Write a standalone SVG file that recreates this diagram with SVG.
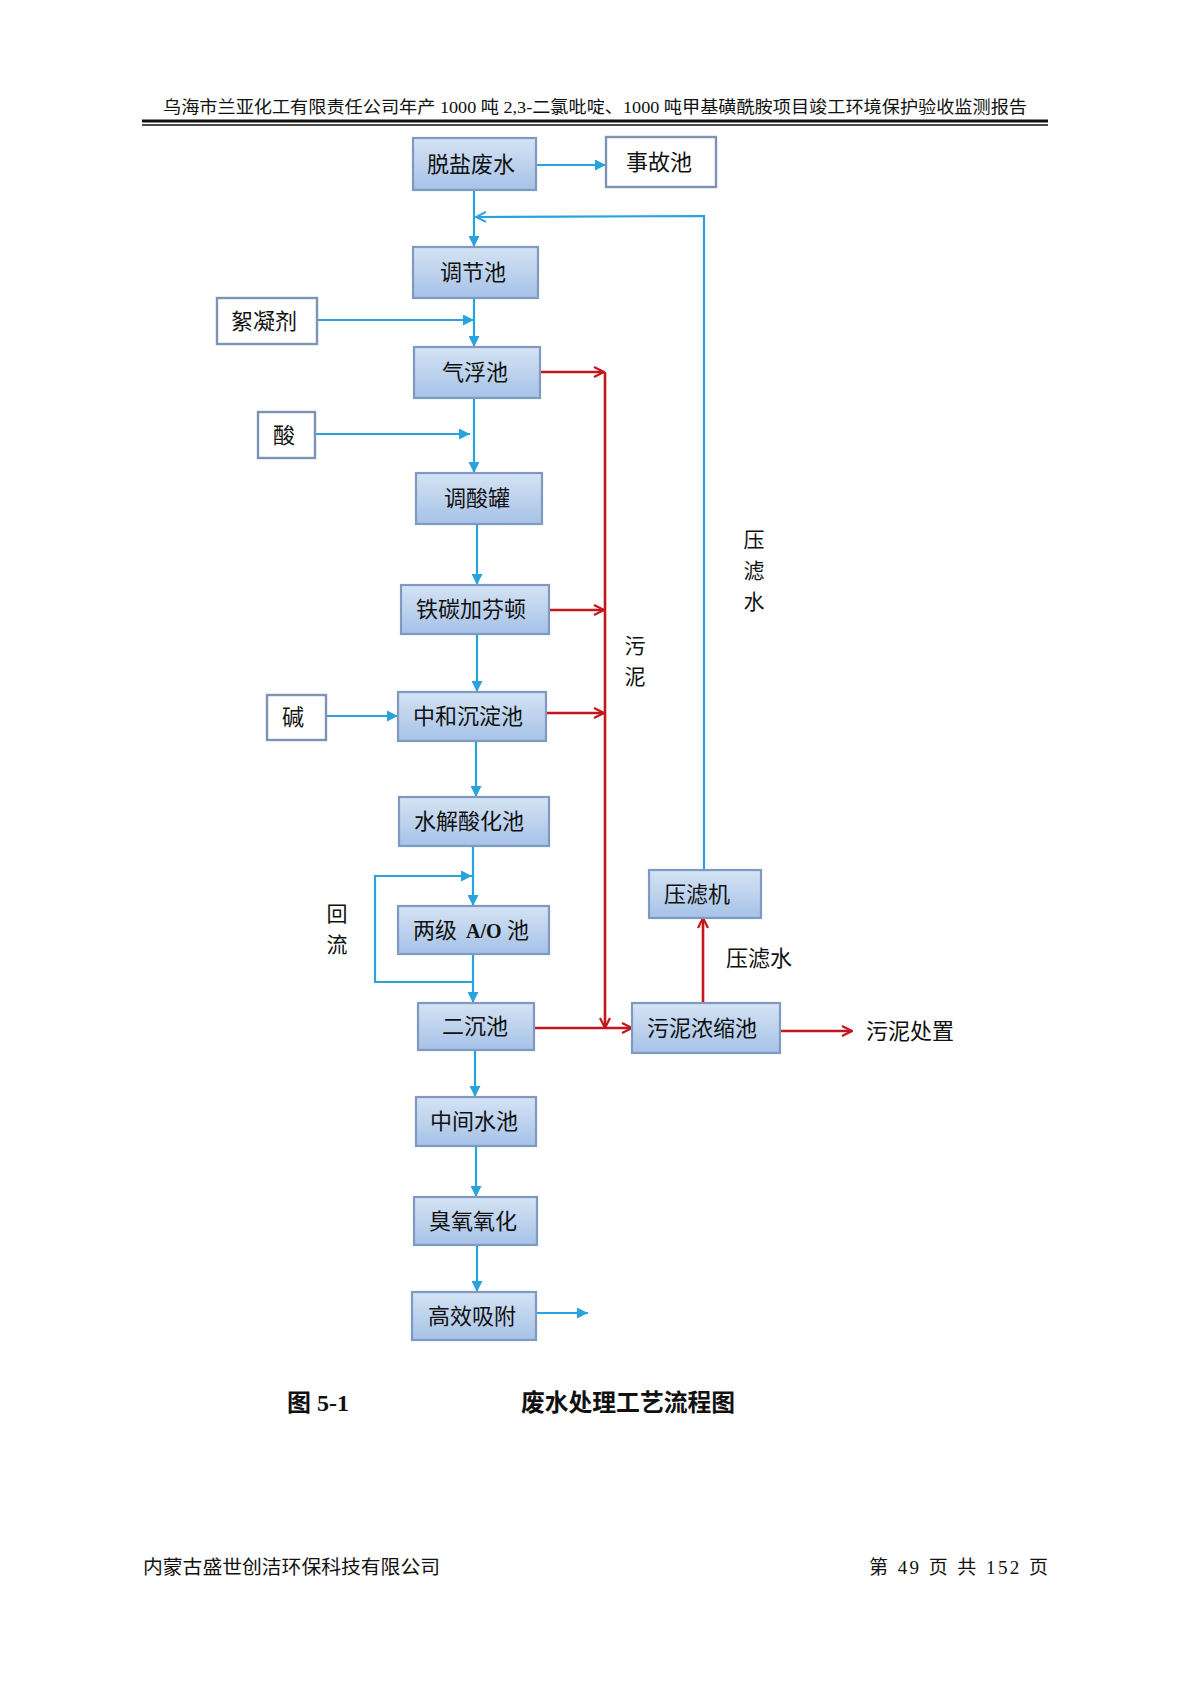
<svg xmlns="http://www.w3.org/2000/svg" width="1190" height="1683" viewBox="0 0 1190 1683">
<defs>
<linearGradient id="gf" x1="0" y1="0" x2="0" y2="1">
<stop offset="0" stop-color="#d5e3f4"/>
<stop offset="1" stop-color="#a6c2e7"/>
</linearGradient>
<marker id="ab" viewBox="0 0 10 10" refX="10" refY="5" markerWidth="11" markerHeight="11" markerUnits="userSpaceOnUse" orient="auto">
<path d="M0,0 L10,5 L0,10 z" fill="#29a3dc"/>
</marker>
<marker id="abo" viewBox="0 0 12 12" refX="11" refY="6" markerWidth="12" markerHeight="12" markerUnits="userSpaceOnUse" orient="auto">
<path d="M1,1 L11,6 L1,11" fill="none" stroke="#29a3dc" stroke-width="2"/>
</marker>
<marker id="ar" viewBox="0 0 12 12" refX="11" refY="6" markerWidth="12" markerHeight="12" markerUnits="userSpaceOnUse" orient="auto">
<path d="M1,1 L11,6 L1,11" fill="none" stroke="#c4161c" stroke-width="2.2"/>
</marker>
</defs>
<style>
.box{fill:url(#gf);stroke:#7f99c0;stroke-width:2.2}
.wbox{fill:#ffffff;stroke:#7f93b3;stroke-width:2.4}
.t{font-family:"Noto Sans CJK SC","Liberation Sans",sans-serif;font-size:22px;fill:#111;text-anchor:middle}
.ts{font-family:"Noto Sans CJK SC","Liberation Sans",sans-serif;font-size:22px;fill:#111;text-anchor:start}
.lb{font-family:"Noto Sans CJK SC","Liberation Sans",sans-serif;font-size:21px;fill:#111;text-anchor:middle}
.b{fill:none;stroke:#29a3dc;stroke-width:2.2}
.r{fill:none;stroke:#c4161c;stroke-width:2.6}
.serif{font-family:"Liberation Serif","Noto Sans CJK SC",serif;fill:#111}
</style>
<rect x="0" y="0" width="1190" height="1683" fill="#ffffff"/>

<g id="header">
<text class="serif" x="163" y="113" font-size="17" textLength="864" lengthAdjust="spacingAndGlyphs">乌海市兰亚化工有限责任公司年产 1000 吨 2,3-二氯吡啶、1000 吨甲基磺酰胺项目竣工环境保护验收监测报告</text>
<line x1="142" y1="121" x2="1048" y2="121" stroke="#111" stroke-width="3"/>
<line x1="142" y1="125" x2="1048" y2="125" stroke="#111" stroke-width="1.5"/>
</g>

<g id="connectors">
<line class="b" x1="536" y1="165" x2="606" y2="165" marker-end="url(#ab)"/>
<line class="b" x1="474" y1="190" x2="474" y2="247" marker-end="url(#ab)"/>
<polyline class="b" points="704,870 704,216 476,217" marker-end="url(#abo)"/>
<line class="b" x1="474" y1="298" x2="474" y2="347" marker-end="url(#ab)"/>
<line class="b" x1="317" y1="320" x2="474" y2="320" marker-end="url(#ab)"/>
<line class="b" x1="474" y1="398" x2="474" y2="473" marker-end="url(#ab)"/>
<line class="b" x1="316" y1="434" x2="470" y2="434" marker-end="url(#ab)"/>
<line class="b" x1="477" y1="524" x2="477" y2="585" marker-end="url(#ab)"/>
<line class="b" x1="477" y1="634" x2="477" y2="692" marker-end="url(#ab)"/>
<line class="b" x1="326" y1="716" x2="398" y2="716" marker-end="url(#ab)"/>
<line class="b" x1="476" y1="741" x2="476" y2="797" marker-end="url(#ab)"/>
<line class="b" x1="473" y1="846" x2="473" y2="906" marker-end="url(#ab)"/>
<polyline class="b" points="473,982 375,982 375,876 472,876" marker-end="url(#ab)" stroke-width="2.6"/>
<line class="b" x1="473" y1="954" x2="473" y2="1003" marker-end="url(#ab)"/>
<line class="b" x1="475" y1="1050" x2="475" y2="1097" marker-end="url(#ab)"/>
<line class="b" x1="476" y1="1146" x2="476" y2="1197" marker-end="url(#ab)"/>
<line class="b" x1="477" y1="1245" x2="477" y2="1292" marker-end="url(#ab)"/>
<line class="b" x1="536" y1="1313" x2="588" y2="1313" marker-end="url(#ab)"/>

<line class="r" x1="540" y1="372" x2="604" y2="372" marker-end="url(#ar)"/>
<line class="r" x1="549" y1="610" x2="604" y2="610" marker-end="url(#ar)"/>
<line class="r" x1="546" y1="713" x2="604" y2="713" marker-end="url(#ar)"/>
<line class="r" x1="605" y1="372" x2="605" y2="1028" marker-end="url(#ar)"/>
<line class="r" x1="534" y1="1028" x2="632" y2="1028" marker-end="url(#ar)"/>
<line class="r" x1="703" y1="1003" x2="703" y2="918" marker-end="url(#ar)"/>
<line class="r" x1="780" y1="1031" x2="852" y2="1031" marker-end="url(#ar)"/>
</g>

<g id="n_tuoyan"><rect class="box" x="413" y="138" width="123" height="52"/><text class="t" x="471" y="172">脱盐废水</text></g>
<g id="n_shigu"><rect class="wbox" x="606" y="137" width="110" height="50"/><text class="t" x="659" y="170">事故池</text></g>
<g id="n_tiaojie"><rect class="box" x="413" y="247" width="125" height="51"/><text class="t" x="473" y="280">调节池</text></g>
<g id="n_xuning"><rect class="wbox" x="217" y="298" width="100" height="46"/><text class="t" x="264" y="329">絮凝剂</text></g>
<g id="n_qifu"><rect class="box" x="414" y="347" width="126" height="51"/><text class="t" x="475" y="380">气浮池</text></g>
<g id="n_suan"><rect class="wbox" x="258" y="412" width="57" height="46"/><text class="t" x="284" y="443">酸</text></g>
<g id="n_tiaosuan"><rect class="box" x="416" y="473" width="126" height="51"/><text class="t" x="477" y="506">调酸罐</text></g>
<g id="n_tietan"><rect class="box" x="401" y="585" width="148" height="49"/><text class="t" x="471" y="617">铁碳加芬顿</text></g>
<g id="n_zhonghe"><rect class="box" x="398" y="692" width="148" height="49"/><text class="t" x="468" y="724">中和沉淀池</text></g>
<g id="n_jian"><rect class="wbox" x="267" y="695" width="59" height="45"/><text class="t" x="293" y="725">碱</text></g>
<g id="n_shuijie"><rect class="box" x="399" y="797" width="150" height="49"/><text class="t" x="469" y="829">水解酸化池</text></g>
<g id="n_ao"><rect class="box" x="398" y="906" width="151" height="48"/><text class="ts" x="413" y="938">两级<tspan x="466" font-family="Liberation Serif, serif" font-weight="bold" font-size="20">A/O</tspan><tspan x="507">池</tspan></text></g>
<g id="n_erchen"><rect class="box" x="418" y="1003" width="116" height="47"/><text class="t" x="475" y="1034">二沉池</text></g>
<g id="n_zhongjian"><rect class="box" x="416" y="1097" width="120" height="49"/><text class="t" x="474" y="1129">中间水池</text></g>
<g id="n_chouyang"><rect class="box" x="414" y="1197" width="123" height="48"/><text class="t" x="473" y="1229">臭氧氧化</text></g>
<g id="n_gaoxiao"><rect class="box" x="412" y="1292" width="124" height="48"/><text class="t" x="472" y="1324">高效吸附</text></g>
<g id="n_yalvji"><rect class="box" x="649" y="870" width="112" height="48"/><text class="t" x="697" y="902">压滤机</text></g>
<g id="n_nongsuo"><rect class="box" x="632" y="1003" width="148" height="50"/><text class="t" x="702" y="1036">污泥浓缩池</text></g>

<g id="labels">
<text class="lb" x="754" y="547">压</text>
<text class="lb" x="754" y="578">滤</text>
<text class="lb" x="754" y="609">水</text>
<text class="lb" x="635" y="653">污</text>
<text class="lb" x="635" y="684">泥</text>
<text class="lb" x="337" y="921">回</text>
<text class="lb" x="337" y="952">流</text>
<text class="t" x="759" y="966">压滤水</text>
<text class="t" x="910" y="1039">污泥处置</text>
</g>

<g id="caption">
<text class="serif" x="287" y="1411" font-size="24" font-weight="bold">图 5-1</text>
<text class="serif" x="521" y="1411" font-size="24" font-weight="bold" textLength="214" lengthAdjust="spacingAndGlyphs">废水处理工艺流程图</text>
</g>

<g id="footer">
<text class="serif" x="143" y="1574" font-size="19" textLength="297" lengthAdjust="spacingAndGlyphs">内蒙古盛世创洁环保科技有限公司</text>
<text class="serif" x="869" y="1574" font-size="19" textLength="179" lengthAdjust="spacing">第 49 页 共 152 页</text>
</g>
</svg>
